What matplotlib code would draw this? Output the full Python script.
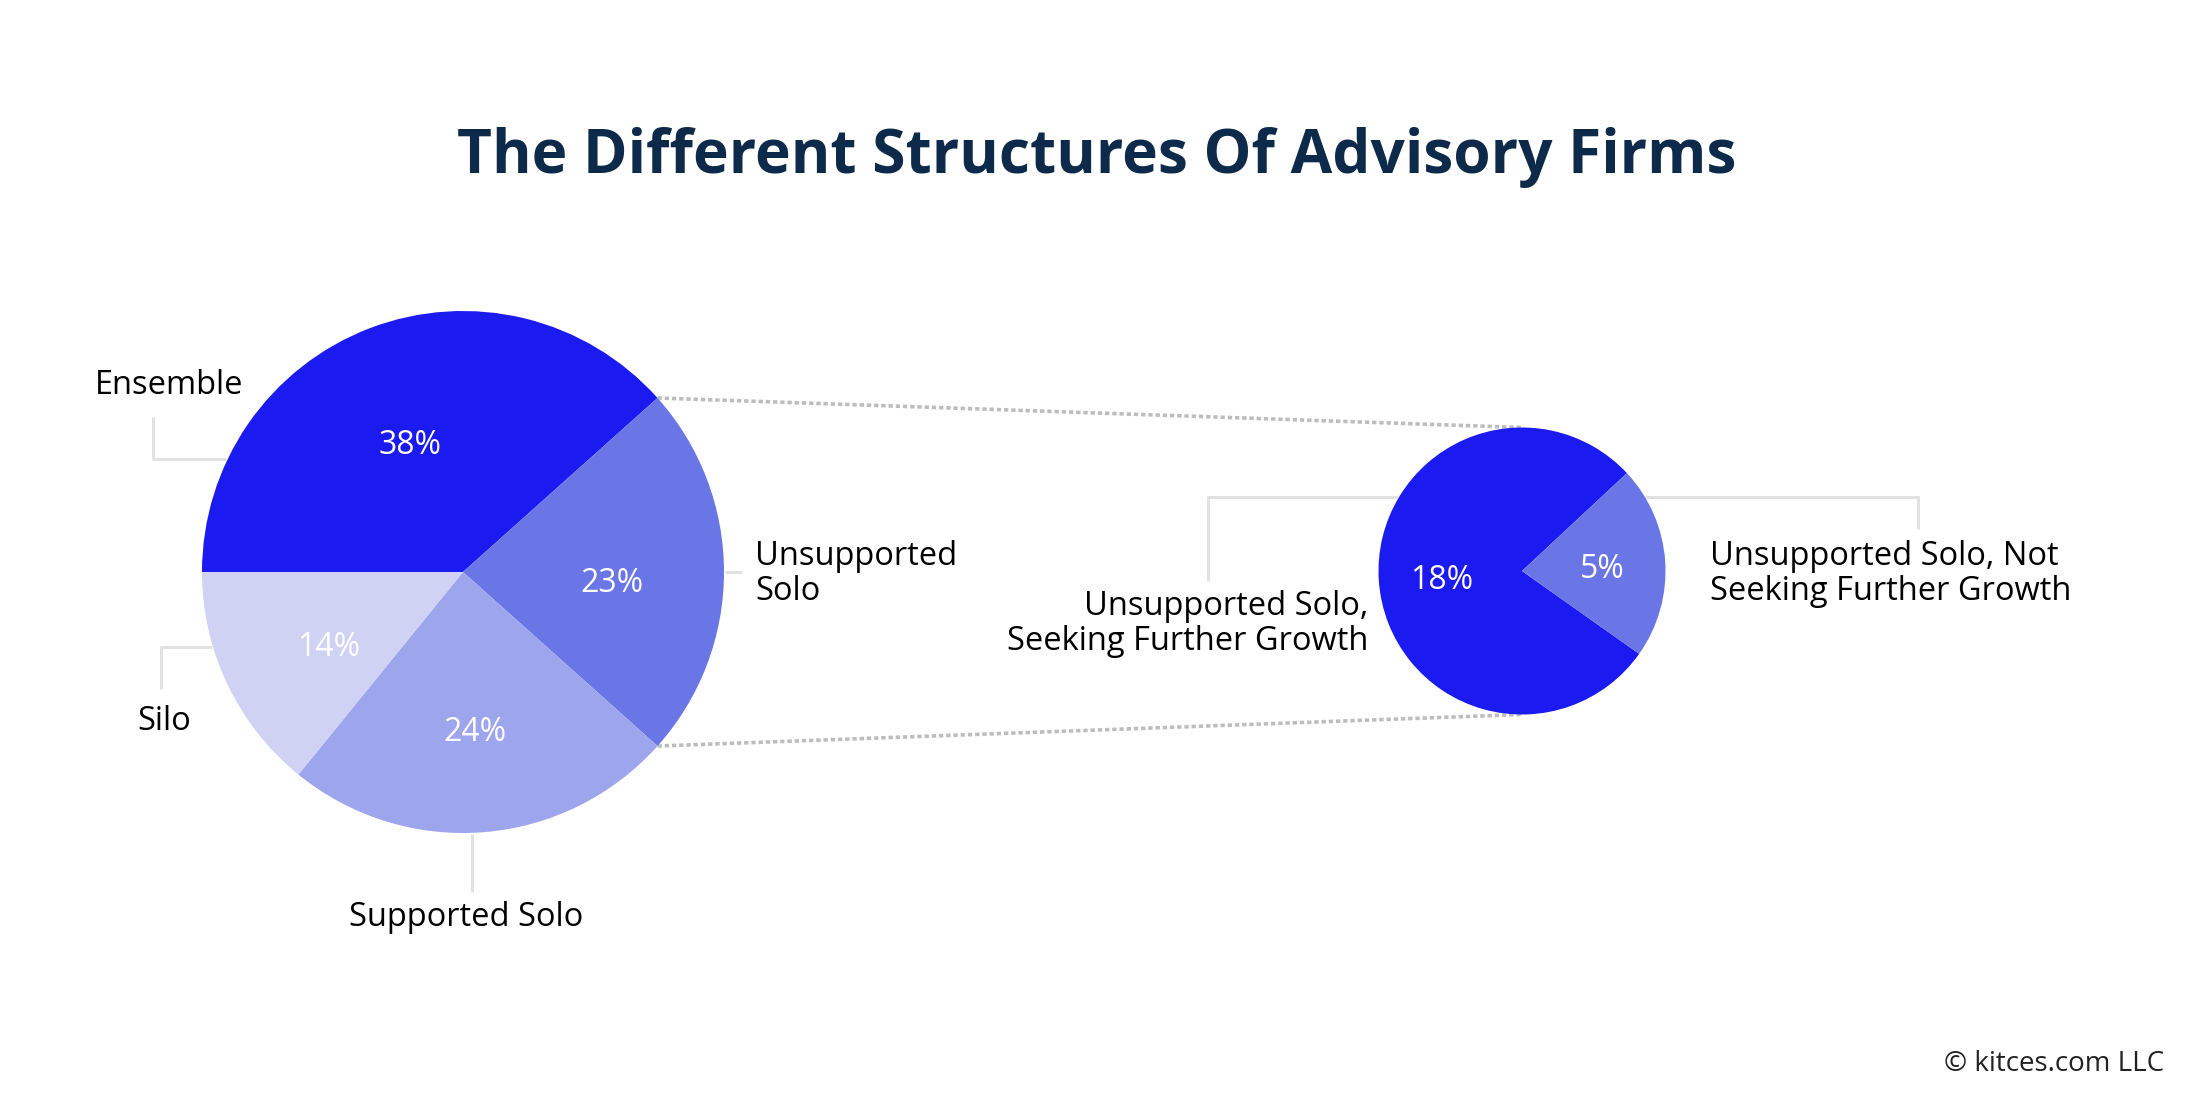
import matplotlib
matplotlib.use("Agg")
import matplotlib.pyplot as plt
import numpy as np

# data
big_labels = ["Ensemble", "Unsupported\nSolo", "Supported Solo", "Silo"]
big_values = [38, 23, 24, 14]
small_labels = ["Unsupported Solo,\nSeeking Further Growth",
                "Unsupported Solo, Not\nSeeking Further Growth"]
small_values = [18, 5]

BIG_COLORS = ["#1b1af0", "#6b76e6", "#9da5ed", "#d0d2f4"]
SMALL_COLORS = ["#1b1af0", "#6b76e6"]
LEADER = "#e2e2e2"
DOTS = "#bdbdbd"
FONT = ["Open Sans", "DejaVu Sans"]

W, H = 2186, 1098
fig = plt.figure(figsize=(W / 100, H / 100), dpi=100)
ax = fig.add_axes([0, 0, 1, 1])
ax.set_xlim(0, W)
ax.set_ylim(0, H)
ax.set_aspect("equal")
ax.axis("off")

big_c, big_r = (463, 526), 261
small_c, small_r = (1522, 527), 143.5


def draw_pie(values, colors, center, radius, start, ccw, pct_r, dy=0):
    wedges, _ = ax.pie(values, colors=colors, startangle=start, counterclock=ccw,
                       center=center, radius=radius, normalize=True,
                       wedgeprops=dict(linewidth=0))
    for w, v in zip(wedges, values):
        mid = np.deg2rad((w.theta1 + w.theta2) / 2)
        ax.text(center[0] + pct_r * radius * np.cos(mid),
                center[1] + pct_r * radius * np.sin(mid) + dy,
                f"{v}%", color="white", fontsize=23, family=FONT,
                ha="center", va="center_baseline")
    return wedges


big_wedges = draw_pie(big_values, BIG_COLORS, big_c, big_r, 180, False, 0.57, dy=-8)
small_wedges = draw_pie(small_values, SMALL_COLORS, small_c, small_r, 43, True, 0.56)
ax.set_xlim(0, W)
ax.set_ylim(0, H)

# dotted connectors from the Unsupported Solo wedge to the breakdown pie
uw = big_wedges[1]
for ang, sy in [(uw.theta2, 1), (uw.theta1, -1)]:
    a = np.deg2rad(ang)
    x0 = big_c[0] + big_r * np.cos(a)
    y0 = big_c[1] + big_r * np.sin(a)
    ax.plot([x0, small_c[0]], [y0, small_c[1] + sy * small_r],
            color=DOTS, lw=2.6, linestyle=(0, (1.2, 0.8)), zorder=0)

# leader lines
leaders = [
    [(153, 681), (153, 639), (226, 639)],
    [(725, 526), (742, 526)],
    [(212, 451), (161, 451), (161, 409)],
    [(472, 264), (472, 206)],
    [(1397, 601), (1208, 601), (1208, 517)],
    [(1645, 601), (1918, 601), (1918, 569)],
]
for pts in leaders:
    xs, ys = zip(*pts)
    ax.plot(xs, ys, color=LEADER, lw=2.2, zorder=0, solid_capstyle="butt")

lab_kw = dict(fontsize=23.5, family=FONT, color="black", linespacing=1.1)
ax.text(95, 713, big_labels[0], ha="left", va="center", **lab_kw)
ax.text(755, 524, big_labels[1], ha="left", va="center", **lab_kw)
ax.text(466, 181, big_labels[2], ha="center", va="center", **lab_kw)
ax.text(137, 376, big_labels[3], ha="left", va="center", **lab_kw)
ax.text(1368, 474, small_labels[0], ha="right", va="center", **lab_kw)
ax.text(1710, 524, small_labels[1], ha="left", va="center", **lab_kw)

ax.text(W / 2 + 4, 941, "The Different Structures Of Advisory Firms",
        ha="center", va="center", fontsize=43.5, fontweight="bold",
        family=FONT, color="#0d2a4a")
ax.text(2164, 34, "\u00a9 kitces.com LLC", ha="right", va="center",
        fontsize=20, family=FONT, color="#222222")

fig.savefig("out.png", dpi=100, facecolor="white")
